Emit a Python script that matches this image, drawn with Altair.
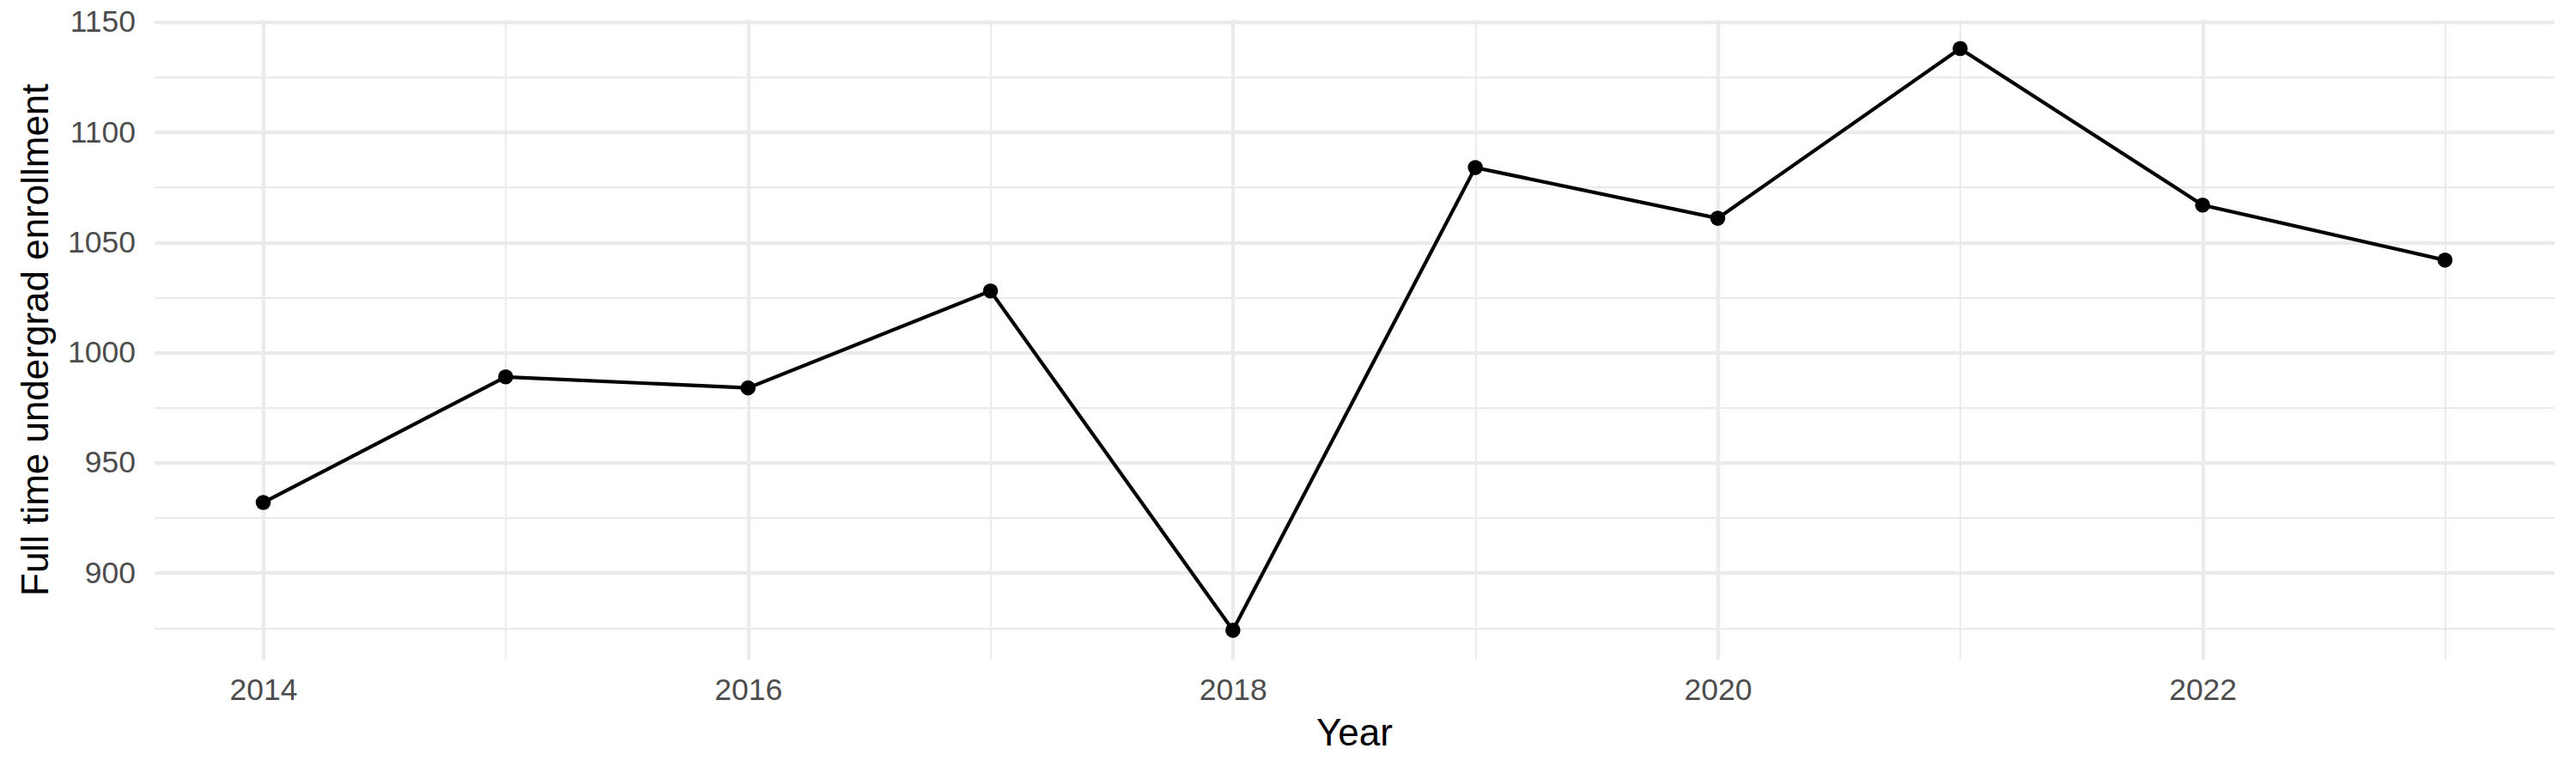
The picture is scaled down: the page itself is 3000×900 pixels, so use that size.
import altair as alt
import pandas as pd

# ---- data ----
years = [2014, 2015, 2016, 2017, 2018, 2019, 2020, 2021, 2022, 2023]
enrollment = [932, 989, 984, 1028, 874, 1084, 1061, 1138, 1067, 1042]

x_tick_values = [2014, 2015, 2016, 2017, 2018, 2019, 2020, 2021, 2022, 2023]
y_tick_values = [875, 900, 925, 950, 975, 1000, 1025, 1050, 1075, 1100, 1125, 1150]

x_domain = [2013.55, 2023.45]
y_domain = [860.8, 1151.2]

df = pd.DataFrame({"Year": years, "Enrollment": enrollment})

FONT = "Liberation Sans"
GRID = "#EBEBEB"

x_enc = alt.X(
    "Year:Q",
    title="Year",
    scale=alt.Scale(domain=x_domain, nice=False, zero=False),
    axis=alt.Axis(
        values=x_tick_values,
        format="d",
        labelExpr="datum.value % 2 === 0 ? datum.label : ''",
        labelFlush=False,
        labelOverlap=False,
        labelFont=FONT,
        labelFontSize=35.5,
        labelColor="#4D4D4D",
        labelPadding=19,
        ticks=False,
        tickSize=0,
        domain=False,
        grid=True,
        gridColor=GRID,
        gridWidth={"condition": {"test": "datum.value % 2 === 0", "value": 4.3}, "value": 2.2},
        titleFont=FONT,
        titleFontSize=44,
        titleFontWeight="normal",
        titleColor="#000000",
        titleBaseline="alphabetic",
        titleAlign="center",
        titleX=1397.5,
        titleY=100,
    ),
)

y_enc = alt.Y(
    "Enrollment:Q",
    title="Full time undergrad enrollment",
    scale=alt.Scale(domain=y_domain, nice=False, zero=False),
    axis=alt.Axis(
        values=y_tick_values,
        format="d",
        labelExpr="datum.value % 50 === 0 ? datum.label : ''",
        labelOverlap=False,
        labelFlush=False,
        labelFont=FONT,
        labelFontSize=35.5,
        labelColor="#4D4D4D",
        labelPadding=22,
        ticks=False,
        tickSize=0,
        domain=False,
        grid=True,
        gridColor=GRID,
        gridWidth={"condition": {"test": "datum.value % 50 === 0", "value": 4.3}, "value": 2.2},
        titleFont=FONT,
        titleFontSize=44,
        titleFontWeight="normal",
        titleColor="#000000",
        titleAngle=270,
        titleBaseline="alphabetic",
        titleAlign="center",
        titleX=-124,
        titleY=372.5,
    ),
)

base = alt.Chart(df).encode(x=x_enc, y=y_enc)

line = base.mark_line(color="#000000", strokeWidth=4.2)
points = base.mark_point(filled=True, color="#000000", size=310, opacity=1)

chart = (
    alt.layer(line, points)
    .properties(
        width=2795,
        height=745,
        padding={"left": 171.5, "top": 14.7, "right": 10, "bottom": 110},
        autosize=alt.AutoSizeParams(type="none"),
        background="white",
    )
    .configure_view(stroke=None)
)

chart.save("out.html", embed_options={"renderer": "svg", "actions": False})
